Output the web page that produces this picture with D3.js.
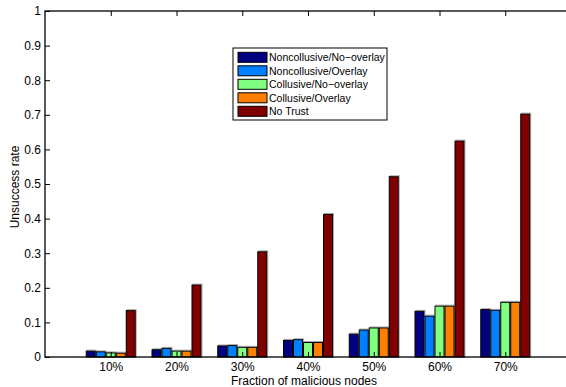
<!DOCTYPE html>
<html>
<head>
<meta charset="utf-8">
<script src="https://cdn.jsdelivr.net/npm/d3@7"></script>
<style>
  body { margin: 0; background: #fff; }
  svg { font-family: "Liberation Sans", Arial, sans-serif; }
</style>
</head>
<body>
<div id="chart"></div>
<script>
// groups on the x axis
var fractions = ["10%", "20%", "30%", "40%", "50%", "60%", "70%"];
var seriesNames = ["Noncollusive/No\u2212overlay", "Noncollusive/Overlay", "Collusive/No\u2212overlay", "Collusive/Overlay", "No Trust"];
var seriesColours = ["#000080", "#0080ff", "#80ff80", "#ff8000", "#800000"];

// values
var noncollNoOverlay = [0.017, 0.021, 0.032, 0.048, 0.066, 0.132, 0.137];
var noncollOverlay   = [0.015, 0.025, 0.033, 0.050, 0.078, 0.118, 0.135];
var collNoOverlay    = [0.012, 0.017, 0.028, 0.042, 0.084, 0.147, 0.158];
var collOverlay      = [0.011, 0.017, 0.028, 0.042, 0.084, 0.147, 0.158];
var noTrust          = [0.134, 0.208, 0.304, 0.412, 0.521, 0.624, 0.702];

var yTicks = [0, 0.1, 0.2, 0.3, 0.4, 0.5, 0.6, 0.7, 0.8, 0.9, 1];

var allSeries = [noncollNoOverlay, noncollOverlay, collNoOverlay, collOverlay, noTrust];

var width = 566, height = 387;
// plot box (note: "top" is taken by window.top, so prefix these)
var plotLeft = 45, plotRight = 571, plotTop = 11, plotBottom = 357;

var svg = d3.select("#chart").append("svg")
  .attr("width", width)
  .attr("height", height);

// x is the group index 1..7, MATLAB style limits 0..8
var x = d3.scaleLinear().domain([0, 8]).range([plotLeft, plotRight]);
var y = d3.scaleLinear().domain([0, 1]).range([plotBottom, plotTop]);

var barPitch = 10, barW = 9;

// bars, with the faint grey shadow matlab leaves on top/right
allSeries.forEach(function(vals, s) {
  var g = svg.append("g");
  g.selectAll(".shadow")
    .data(vals)
    .enter()
    .append("rect")
      .attr("class", "shadow")
      .attr("x", function(d, i) { return x(i + 1) + (s - 2) * barPitch - barW / 2 + 1; })
      .attr("y", d => y(d) - 1)
      .attr("width", barW)
      .attr("height", d => y(0) - y(d) + 1)
      .attr("fill", "none")
      .attr("stroke", "#aaa")
      .attr("stroke-width", 1);
  g.selectAll(".bar")
    .data(vals)
    .enter()
    .append("rect")
      .attr("class", "bar")
      .attr("x", function(d, i) { return x(i + 1) + (s - 2) * barPitch - barW / 2; })
      .attr("y", d => y(d))
      .attr("width", barW)
      .attr("height", d => y(0) - y(d))
      .attr("fill", seriesColours[s])
      .attr("stroke", "#000")
      .attr("stroke-width", 1);
});

// axes, ticks inward like matlab
var tickLen = 5;
var yAxisL = d3.axisLeft(y).tickValues(yTicks).tickSize(-tickLen).tickPadding(4)
  .tickFormat(d => d3.format("")(d));
var gy = svg.append("g").attr("transform", "translate(" + plotLeft + ",0)").call(yAxisL);
gy.select(".domain").remove();

var yAxisR = d3.axisRight(y).tickValues(yTicks).tickSize(-tickLen).tickFormat("");
var gyr = svg.append("g").attr("transform", "translate(" + plotRight + ",0)").call(yAxisR);
gyr.select(".domain").remove();

var xAxisB = d3.axisBottom(x).tickValues(d3.range(1, 8)).tickSize(-tickLen).tickPadding(5)
  .tickFormat(d => fractions[d - 1]);
var gx = svg.append("g").attr("transform", "translate(0," + plotBottom + ")").call(xAxisB);
gx.select(".domain").remove();

var xAxisT = d3.axisTop(x).tickValues(d3.range(1, 8)).tickSize(-tickLen).tickFormat("");
var gxt = svg.append("g").attr("transform", "translate(0," + plotTop + ")").call(xAxisT);
gxt.select(".domain").remove();

svg.selectAll(".tick text").attr("font-size", 12).attr("fill", "#000")
  .attr("font-family", "Liberation Sans, Arial, sans-serif");
svg.selectAll(".tick line").attr("stroke", "#000");

// box
svg.append("rect")
  .attr("x", plotLeft).attr("y", plotTop)
  .attr("width", plotRight - plotLeft).attr("height", plotBottom - plotTop)
  .attr("fill", "none").attr("stroke", "#000").attr("stroke-width", 1.3);

// axis labels
svg.append("text")
  .attr("x", 304)
  .attr("y", 385)
  .attr("text-anchor", "middle")
  .attr("font-size", 12)
  .text("Fraction of malicious nodes");

svg.append("text")
  .attr("transform", "translate(19,187) rotate(-90)")
  .attr("text-anchor", "middle")
  .attr("font-size", 12)
  .text("Unsuccess rate");

// legend
var legend = svg.append("g").attr("transform", "translate(233,48)");
legend.append("rect")
  .attr("width", 154).attr("height", 72)
  .attr("fill", "#fff").attr("stroke", "#000").attr("stroke-width", 1);

var rows = legend.selectAll(".row")
  .data(seriesNames)
  .enter()
  .append("g")
    .attr("transform", (d, i) => "translate(0," + (9.3 + i * 13.5) + ")");

rows.append("rect")
  .attr("x", 5).attr("y", -5)
  .attr("width", 29).attr("height", 10)
  .attr("fill", (d, i) => seriesColours[i])
  .attr("stroke", "#000");

rows.append("text")
  .attr("x", 36).attr("y", 4)
  .attr("font-size", 10.5)
  .text(d => d);
</script>
</body>
</html>
